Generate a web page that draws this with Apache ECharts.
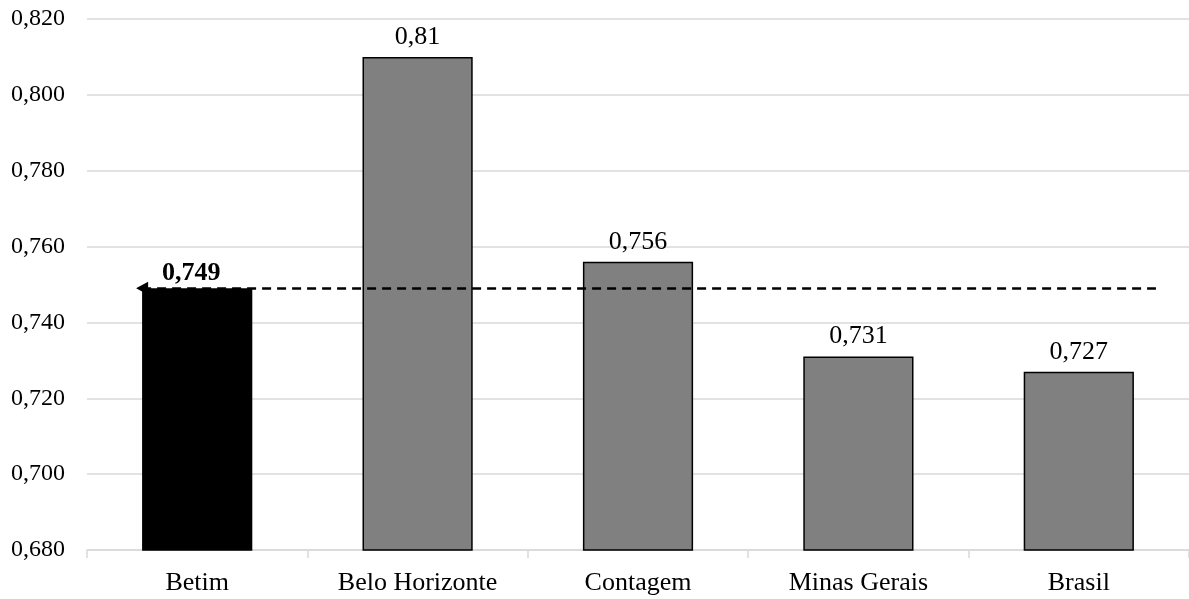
<!DOCTYPE html>
<html>
<head>
<meta charset="utf-8">
<script src="https://cdn.jsdelivr.net/npm/echarts@6/dist/echarts.min.js"></script>
<style>
  html, body { margin: 0; padding: 0; background: #fff; }
  #chart { width: 1189px; height: 599px; }
</style>
</head>
<body>
<div id="chart"></div>
<script>
// Municipal index comparison
const categories = ['Betim', 'Belo Horizonte', 'Contagem', 'Minas Gerais', 'Brasil'];
const values = [0.749, 0.81, 0.756, 0.731, 0.727];
const highlightIndex = 0;          // Betim is drawn in black
const referenceValue = 0.749;      // dashed reference line (Betim level)
// reference line span, in category-band units (0 = left edge of first band)
const referenceSpan = [0.25, 4.85];
const yMin = 0.68, yMax = 0.82, yStep = 0.02;

const FONT = '"Liberation Serif", "Times New Roman", serif';
const fmtComma = v => String(v).replace('.', ',');

const chart = echarts.init(document.getElementById('chart'));
chart.setOption({
  animation: false,
  backgroundColor: '#fff',
  grid: { left: 87, right: 0, top: 19, bottom: 49, containLabel: false },
  xAxis: [
    {
      type: 'category',
      data: categories,
      boundaryGap: true,
      axisLine: { show: true, lineStyle: { color: '#d9d9d9', width: 1.5 } },
      axisTick: { show: true, alignWithLabel: false, length: 8, lineStyle: { color: '#d9d9d9', width: 1.5 } },
      axisLabel: { color: '#000', fontFamily: FONT, fontSize: 26, margin: 20 },
      splitLine: { show: false }
    },
    {
      type: 'value',
      min: 0, max: categories.length,
      show: false
    }
  ],
  yAxis: {
    type: 'value',
    min: yMin, max: yMax, interval: yStep,
    axisLine: { show: false },
    axisTick: { show: false },
    axisLabel: {
      color: '#000', fontFamily: FONT, fontSize: 24, margin: 22,
      formatter: v => v.toFixed(3).replace('.', ',')
    },
    splitLine: { lineStyle: { color: '#d9d9d9', width: 1.5 } }
  },
  series: [
    {
      type: 'bar',
      barWidth: '50%',
      data: values.map((v, i) => ({
        value: v,
        itemStyle: i === highlightIndex
          ? { color: '#000', borderColor: '#000', borderWidth: 1.5 }
          : { color: '#808080', borderColor: '#000', borderWidth: 1.5 },
        // the highlighted value sits just above the dashed line, nudged left
        label: i === highlightIndex ? { fontWeight: 'bold', offset: [-6, 5] } : {}
      })),
      label: {
        show: true,
        position: 'top',
        distance: 7,
        color: '#000',
        fontFamily: FONT,
        fontSize: 26,
        formatter: p => fmtComma(p.value)
      },
      z: 2
    },
    {
      type: 'line',
      xAxisIndex: 1,
      data: [],
      silent: true,
      markLine: {
        silent: true,
        symbol: ['triangle', 'none'],
        symbolSize: [13, 12],
        label: { show: false },
        lineStyle: { color: '#000', type: [9, 6], width: 2.5 },
        data: [[
          { coord: [referenceSpan[0], referenceValue] },
          { coord: [referenceSpan[1], referenceValue] }
        ]]
      },
      z: 3
    }
  ]
});
</script>
</body>
</html>
